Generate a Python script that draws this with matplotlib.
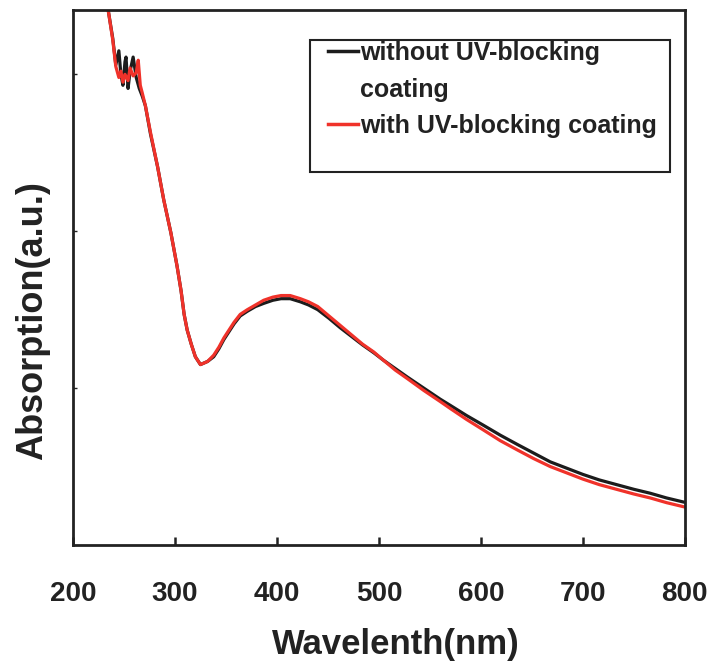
import matplotlib
matplotlib.use("Agg")
import matplotlib.pyplot as plt
from matplotlib.patches import Rectangle
from matplotlib.lines import Line2D

# values (wavelength in nm, absorption in a.u.)
wl_black = [230, 235, 239, 242, 245, 247, 249, 251, 252, 254, 256, 259, 262, 265,
            268, 271, 276, 283, 289, 296, 302, 306, 309, 312, 316, 320, 325, 332,
            338, 343, 348, 353, 358, 364, 371, 379, 387, 396, 404, 413, 423, 431,
            440, 451, 462, 473, 484, 495, 504, 516, 528, 544, 560, 570, 586, 602,
            619, 636, 652, 668, 684, 700, 716, 733, 750, 766, 782, 798, 800]
abs_black = [3.60, 3.39, 3.23, 3.06, 3.15, 3.00, 2.93, 3.08, 3.11, 2.91, 3.02, 3.11, 2.98, 2.91,
             2.86, 2.80, 2.62, 2.41, 2.20, 1.99, 1.78, 1.62, 1.47, 1.37, 1.28, 1.20, 1.15, 1.17,
             1.20, 1.25, 1.31, 1.36, 1.41, 1.46, 1.49, 1.52, 1.54, 1.56, 1.57, 1.57, 1.55, 1.53,
             1.50, 1.445, 1.385, 1.33, 1.275, 1.225, 1.18, 1.125, 1.07, 1.00, 0.93, 0.89, 0.825, 0.765,
             0.70, 0.64, 0.585, 0.53, 0.49, 0.45, 0.415, 0.385, 0.355, 0.33, 0.30, 0.275, 0.272]

wl_red = [230, 235, 239, 242, 245, 247, 249, 251, 254, 256, 259, 262, 264, 266,
          268, 271, 276, 283, 289, 296, 302, 306, 309, 312, 316, 320, 325, 332,
          338, 343, 348, 353, 358, 364, 371, 379, 387, 396, 404, 413, 423, 431,
          440, 451, 462, 473, 484, 495, 504, 516, 528, 544, 560, 570, 586, 602,
          619, 636, 652, 668, 684, 700, 716, 733, 750, 766, 782, 798, 800]
abs_red = [3.60, 3.39, 3.22, 3.05, 2.98, 3.02, 2.95, 3.00, 2.96, 3.04, 2.99, 3.01, 3.09, 2.93,
           2.88, 2.80, 2.63, 2.41, 2.20, 1.99, 1.78, 1.62, 1.47, 1.37, 1.28, 1.20, 1.15, 1.17,
           1.21, 1.26, 1.32, 1.37, 1.42, 1.47, 1.50, 1.53, 1.56, 1.58, 1.59, 1.59, 1.57, 1.55,
           1.52, 1.46, 1.40, 1.34, 1.28, 1.23, 1.18, 1.115, 1.06, 0.985, 0.915, 0.87, 0.80, 0.735,
           0.665, 0.605, 0.55, 0.50, 0.46, 0.42, 0.385, 0.355, 0.325, 0.30, 0.27, 0.245, 0.242]

labels = ["without UV-blocking", "coating", "with UV-blocking coating"]

font = ["Liberation Sans", "DejaVu Sans"]

fig = plt.figure(figsize=(7.14, 6.67), dpi=100)
ax = fig.add_axes([0.1022, 0.1829, 0.857, 0.8021])

ax.plot(wl_black, abs_black, color="#1c1c1c", lw=2.3)
ax.plot(wl_red, abs_red, color="#f0322a", lw=2.3)

ax.set_xlim(200, 800)
ax.set_ylim(0, 3.41)
ax.set_xticks(range(200, 801, 100))
ax.set_yticks([1, 2, 3])
ax.set_yticklabels([])

for s in ax.spines.values():
    s.set_linewidth(2.0)
    s.set_color("#222222")

ax.tick_params(axis="x", direction="in", length=6, width=1.8, pad=26, colors="#222222")
ax.tick_params(axis="y", direction="in", length=3, width=1.0, colors="#222222")
for t in ax.get_xticklabels():
    t.set_family(font)
    t.set_fontsize(20)
    t.set_fontweight("bold")

ax.set_xlabel("Wavelenth(nm)", family=font, fontsize=25, fontweight="bold",
              color="#222222")
ax.xaxis.set_label_coords(0.528, -0.155)
ax.set_ylabel("Absorption(a.u.)", family=font, fontsize=26,
              fontweight="bold", color="#222222")
ax.yaxis.set_label_coords(-0.038, 0.42)

handles = [Line2D([], [], color="#1c1c1c", lw=2.5),
           Line2D([], [], color="none"),
           Line2D([], [], color="#f0322a", lw=2.5)]
leg = ax.legend(handles, labels, loc="upper left", bbox_to_anchor=(0.4167, 0.942),
                frameon=False, borderpad=0, borderaxespad=0, handlelength=1.2,
                handletextpad=0.1, labelspacing=0.5,
                prop={"family": font, "size": 18, "weight": "bold"})
for t in leg.get_texts():
    t.set_color("#222222")

ax.add_patch(Rectangle((0.387, 0.697), 0.5885, 0.247, transform=ax.transAxes,
                       fill=False, lw=1.5, edgecolor="#222222", zorder=5))

fig.savefig("out.png", dpi=100)
